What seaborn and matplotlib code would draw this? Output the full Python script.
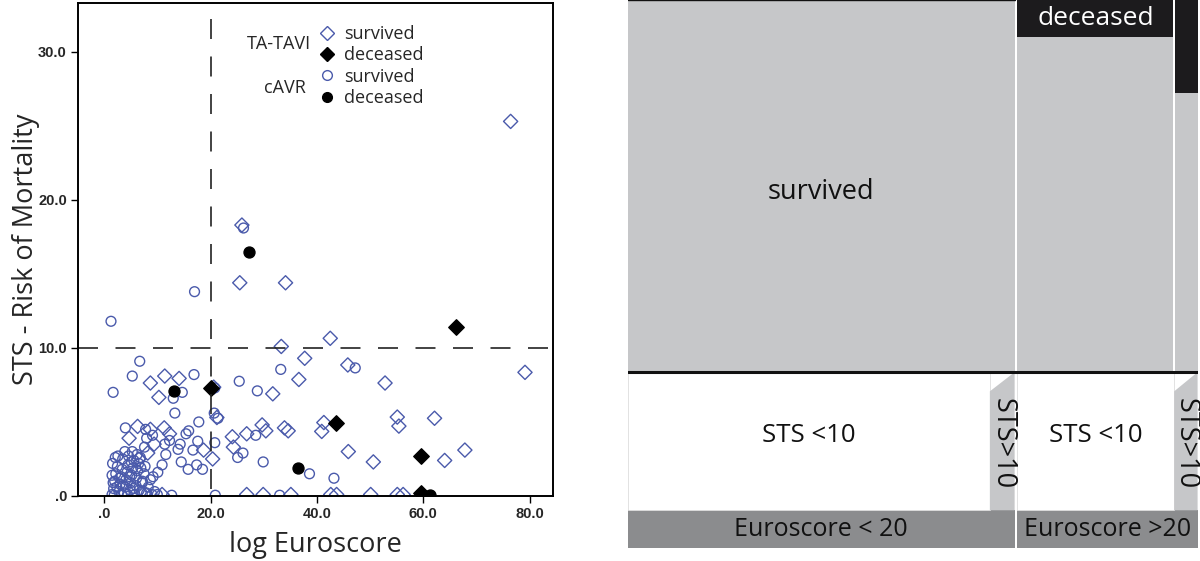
import matplotlib
matplotlib.use("Agg")
import matplotlib.pyplot as plt
from matplotlib.lines import Line2D
import pandas as pd
import seaborn as sns

# ---- scatter data ----
tavi_surv_x = [76.4, 25.9, 25.5, 34.1, 42.5, 33.3, 37.7, 45.8, 79.1, 36.6, 52.8, 11.4, 14.1, 8.7,
               10.3, 31.7, 55.1, 55.4, 62.1, 41.3, 40.9, 21.2, 24.1, 24.3, 26.8, 29.7, 30.4, 33.9,
               34.6, 45.9, 50.6, 64.0, 67.8, 20.4, 18.7, 26.8, 29.9, 35.1, 42.6, 43.7, 50.1, 55.1,
               56.2, 6.3, 4.7, 8.7, 11.3, 12.3, 9.4, 8.2, 6.5, 10.9, 7.6, 20.6]
tavi_surv_y = [25.3, 18.3, 14.4, 14.4, 10.65, 10.1, 9.3, 8.85, 8.35, 7.87, 7.63, 8.1, 7.94, 7.63,
               6.66, 6.9, 5.33, 4.72, 5.25, 4.96, 4.36, 5.3, 4.0, 3.3, 4.2, 4.8, 4.4, 4.6,
               4.4, 3.0, 2.3, 2.4, 3.1, 2.5, 3.1, 0.1, 0.1, 0.1, 0.1, 0.1, 0.1, 0.1,
               0.1, 4.7, 3.9, 4.5, 4.6, 4.2, 3.5, 2.9, 2.5, 0.1, 0.2, 7.35]

tavi_dead_x = [66.2, 20.1, 43.5, 59.6, 59.6]
tavi_dead_y = [11.4, 7.3, 4.9, 2.7, 0.2]

cavr_surv_x = [1.3, 17.0, 26.2, 6.7, 5.3, 1.7, 16.9, 25.4, 28.8, 20.8, 13.0, 14.7, 13.3, 20.7,
               21.4, 33.2, 47.2, 17.8, 15.9, 15.4, 14.3, 14.5, 15.8, 17.6, 16.7, 17.4, 18.5, 20.8,
               26.1, 25.1, 28.5, 29.9, 38.6, 43.2, 20.9, 33.0, 12.7, 11.4, 11.6, 10.9, 9.2, 10.1,
               7.2, 4.0, 7.8, 8.0, 7.6, 9.1, 12.3, 13.9,
               1.5, 1.8, 2.0, 2.2, 2.5, 1.6, 2.8, 3.0, 3.2, 3.4, 3.5, 3.8, 4.0, 4.1, 4.3, 4.5,
               4.6, 4.9, 5.0, 5.2, 5.4, 5.6, 5.8, 6.0, 6.1, 6.3, 6.5, 6.8, 7.0, 7.2, 7.5, 7.7,
               8.0, 8.3, 8.7, 9.0, 9.5, 10.0, 1.5, 2.6, 3.3, 4.4, 5.5, 6.6, 1.9, 2.4, 5.3, 6.2,
               3.9, 2.1, 1.7, 2.9, 4.8, 6.9, 3.6, 5.1]
cavr_surv_y = [11.8, 13.8, 18.1, 9.1, 8.1, 7.0, 8.2, 7.75, 7.1, 7.3, 6.6, 7.0, 5.6, 5.6,
               5.25, 8.55, 8.65, 5.0, 4.4, 4.2, 3.5, 2.3, 1.8, 3.7, 3.1, 2.1, 1.8, 3.6,
               2.9, 2.6, 4.1, 2.3, 1.5, 1.2, 0.05, 0.05, 0.05, 3.5, 2.8, 2.1, 1.3, 1.6,
               1.0, 4.6, 4.5, 3.9, 3.3, 4.1, 3.75, 3.15,
               0.1, 0.5, 1.0, 1.5, 2.0, 2.2, 0.3, 0.8, 1.3, 1.8, 2.5, 0.2, 0.6, 1.1, 1.6, 2.1,
               2.7, 0.4, 0.9, 1.4, 1.9, 2.4, 0.1, 0.7, 1.2, 1.7, 2.2, 2.6, 0.3, 0.9, 1.5, 2.0,
               0.2, 0.6, 1.1, 0.1, 0.3, 0.1, 1.4, 2.7, 0.1, 0.1, 0.5, 0.4, 0.05, 0.6, 3.0, 2.8,
               3.0, 2.6, 0.9, 1.2, 1.3, 1.9, 0.7, 2.3]

cavr_dead_x = [27.2, 13.2, 36.4, 61.2]
cavr_dead_y = [16.5, 7.1, 1.9, 0.05]

# ---- mosaic data ----
euro_labels = ["Euroscore < 20", "Euroscore >20"]
euro_share = [0.684, 0.316]        # share of patients per Euroscore group
sts_high_share = [0.064, 0.13]     # share with STS>10 inside each group
dead_share_low = [0.0, 0.10]       # deceased share, STS<10 column
dead_share_high = [0.0, 0.25]      # deceased share, STS>10 column

blue = "#4a5aab"
light = "#c6c7c9"
dark = "#8b8c8e"
black = "#1c1b1d"

sns.set_style("white")
plt.rcParams["font.family"] = ["Open Sans", "DejaVu Sans"]

fig = plt.figure(figsize=(12, 5.61), dpi=100)
ax = fig.add_axes([0.065, 0.1159, 0.396, 0.8788])

sets = [
    (tavi_surv_x, tavi_surv_y, "D", "none", blue, 52),
    (cavr_surv_x, cavr_surv_y, "o", "none", blue, 50),
    (tavi_dead_x, tavi_dead_y, "D", "black", "black", 62),
    (cavr_dead_x, cavr_dead_y, "o", "black", "black", 62),
]
for xs, ys, mk, fc, ec, sz in sets:
    df = pd.DataFrame({"x": xs, "y": ys})
    sns.scatterplot(data=df, x="x", y="y", marker=mk, s=sz, facecolors=fc,
                    edgecolor=ec, linewidth=1.0, ax=ax, legend=False)

ax.axhline(10, color="#222222", lw=1.2, ls=(0, (12, 10.5)))
ax.plot([20, 20], [32.2, 0], color="#222222", lw=1.2, ls=(0, (12, 10.5)))

ax.set_xlim(-4.9, 84.4)
ax.set_ylim(0, 33.3)
ax.set_xticks([0, 20, 40, 60, 80])
ax.set_xticklabels([".0", "20.0", "40.0", "60.0", "80.0"])
ax.set_yticks([0, 10, 20, 30])
ax.set_yticklabels([".0", "10.0", "20.0", "30.0"])
for lab in ax.get_xticklabels() + ax.get_yticklabels():
    lab.set_family("Liberation Sans")
    lab.set_fontweight("bold")
    lab.set_fontsize(10.5)
ax.tick_params(axis="both", direction="out", length=5, width=1, color="black",
               left=True, bottom=True, pad=3)
for sp in ax.spines.values():
    sp.set_color("black")
    sp.set_linewidth(1.4)
ax.set_xlabel("log Euroscore", fontsize=19.5, labelpad=7)
ax.set_ylabel("STS - Risk of Mortality", fontsize=19.5, labelpad=-1)

handles = [
    Line2D([], [], ls="none", marker="D", ms=7, mfc="none", mec=blue, mew=1.0),
    Line2D([], [], ls="none", marker="D", ms=7.5, mfc="black", mec="black"),
    Line2D([], [], ls="none", marker="o", ms=7, mfc="none", mec=blue, mew=1.0),
    Line2D([], [], ls="none", marker="o", ms=7, mfc="black", mec="black"),
]
ax.legend(handles, ["survived", "deceased", "survived", "deceased"], loc="upper left",
          bbox_to_anchor=(0.506, 0.955), frameon=False, fontsize=13, handlelength=1.0,
          handletextpad=0.4, labelspacing=0.18, borderaxespad=0, borderpad=0)
ax.text(0.49, 0.917, "TA-TAVI", transform=ax.transAxes, ha="right", va="center", fontsize=13)
ax.text(0.48, 0.828, "cAVR", transform=ax.transAxes, ha="right", va="center", fontsize=13)

# ---- mosaic panel ----
mx = fig.add_axes([0.523, 0.023, 0.475, 0.977])
mx.set_xlim(0, 1)
mx.set_ylim(0, 1)
mx.axis("off")

gap = 0.005
strip_h = 0.069
band_top = 0.321
top_h = 1 - band_top
left = 0
for i, lab in enumerate(euro_labels):
    w = euro_share[i] - gap if i == 0 else euro_share[i]
    hi_w = w * sts_high_share[i]
    lo_w = w - hi_w
    # bottom strip with Euroscore group
    mx.bar(left, strip_h, width=w, bottom=0, align="edge", color=dark, lw=0)
    mx.text(left + w / 2, strip_h / 2, lab, ha="center", va="center", fontsize=18, color="#111111")
    # STS band
    mx.bar(left, band_top - strip_h, width=lo_w, bottom=strip_h, align="edge", color="white",
           edgecolor="#dddddd", lw=0.6)
    mx.fill([left + lo_w, left + lo_w, left + w, left + w],
            [strip_h, band_top - 0.035, band_top, strip_h], color=light, lw=0)
    mx.text(left + lo_w / 2, (strip_h + band_top) / 2 + 0.01, "STS <10", ha="center",
            va="center", fontsize=18.5, color="#111111")
    mx.text(left + lo_w + hi_w / 2, (strip_h + band_top) / 2 - 0.005, "STS>10", ha="center",
            va="center", rotation=270, fontsize=19.5, color="#111111")
    # survival block
    if dead_share_low[i] == 0 and dead_share_high[i] == 0:
        mx.bar(left, top_h, width=w, bottom=band_top, align="edge", color=light, lw=0)
        mx.text(left + w / 2, 0.65, "survived", ha="center", va="center", fontsize=19.5,
                color="#111111")
    else:
        for cx, cw, ds in [(left, lo_w - 0.002, dead_share_low[i]),
                           (left + lo_w + 0.002, hi_w - 0.002, dead_share_high[i])]:
            dh = top_h * ds
            mx.bar(cx, top_h - dh, width=cw, bottom=band_top, align="edge", color=light, lw=0)
            mx.bar(cx, dh, width=cw, bottom=1 - dh, align="edge", color=black, lw=0)
        mx.text(left + lo_w / 2, 1 - top_h * dead_share_low[i] / 2, "deceased", ha="center",
                va="center", fontsize=19, color="white")
    left += euro_share[i]

mx.axhline(band_top, color="#111111", lw=2.2)
mx.axhline(1.0, xmax=euro_share[0] - gap, color="#111111", lw=1.0)

fig.savefig("out.png", dpi=100)
